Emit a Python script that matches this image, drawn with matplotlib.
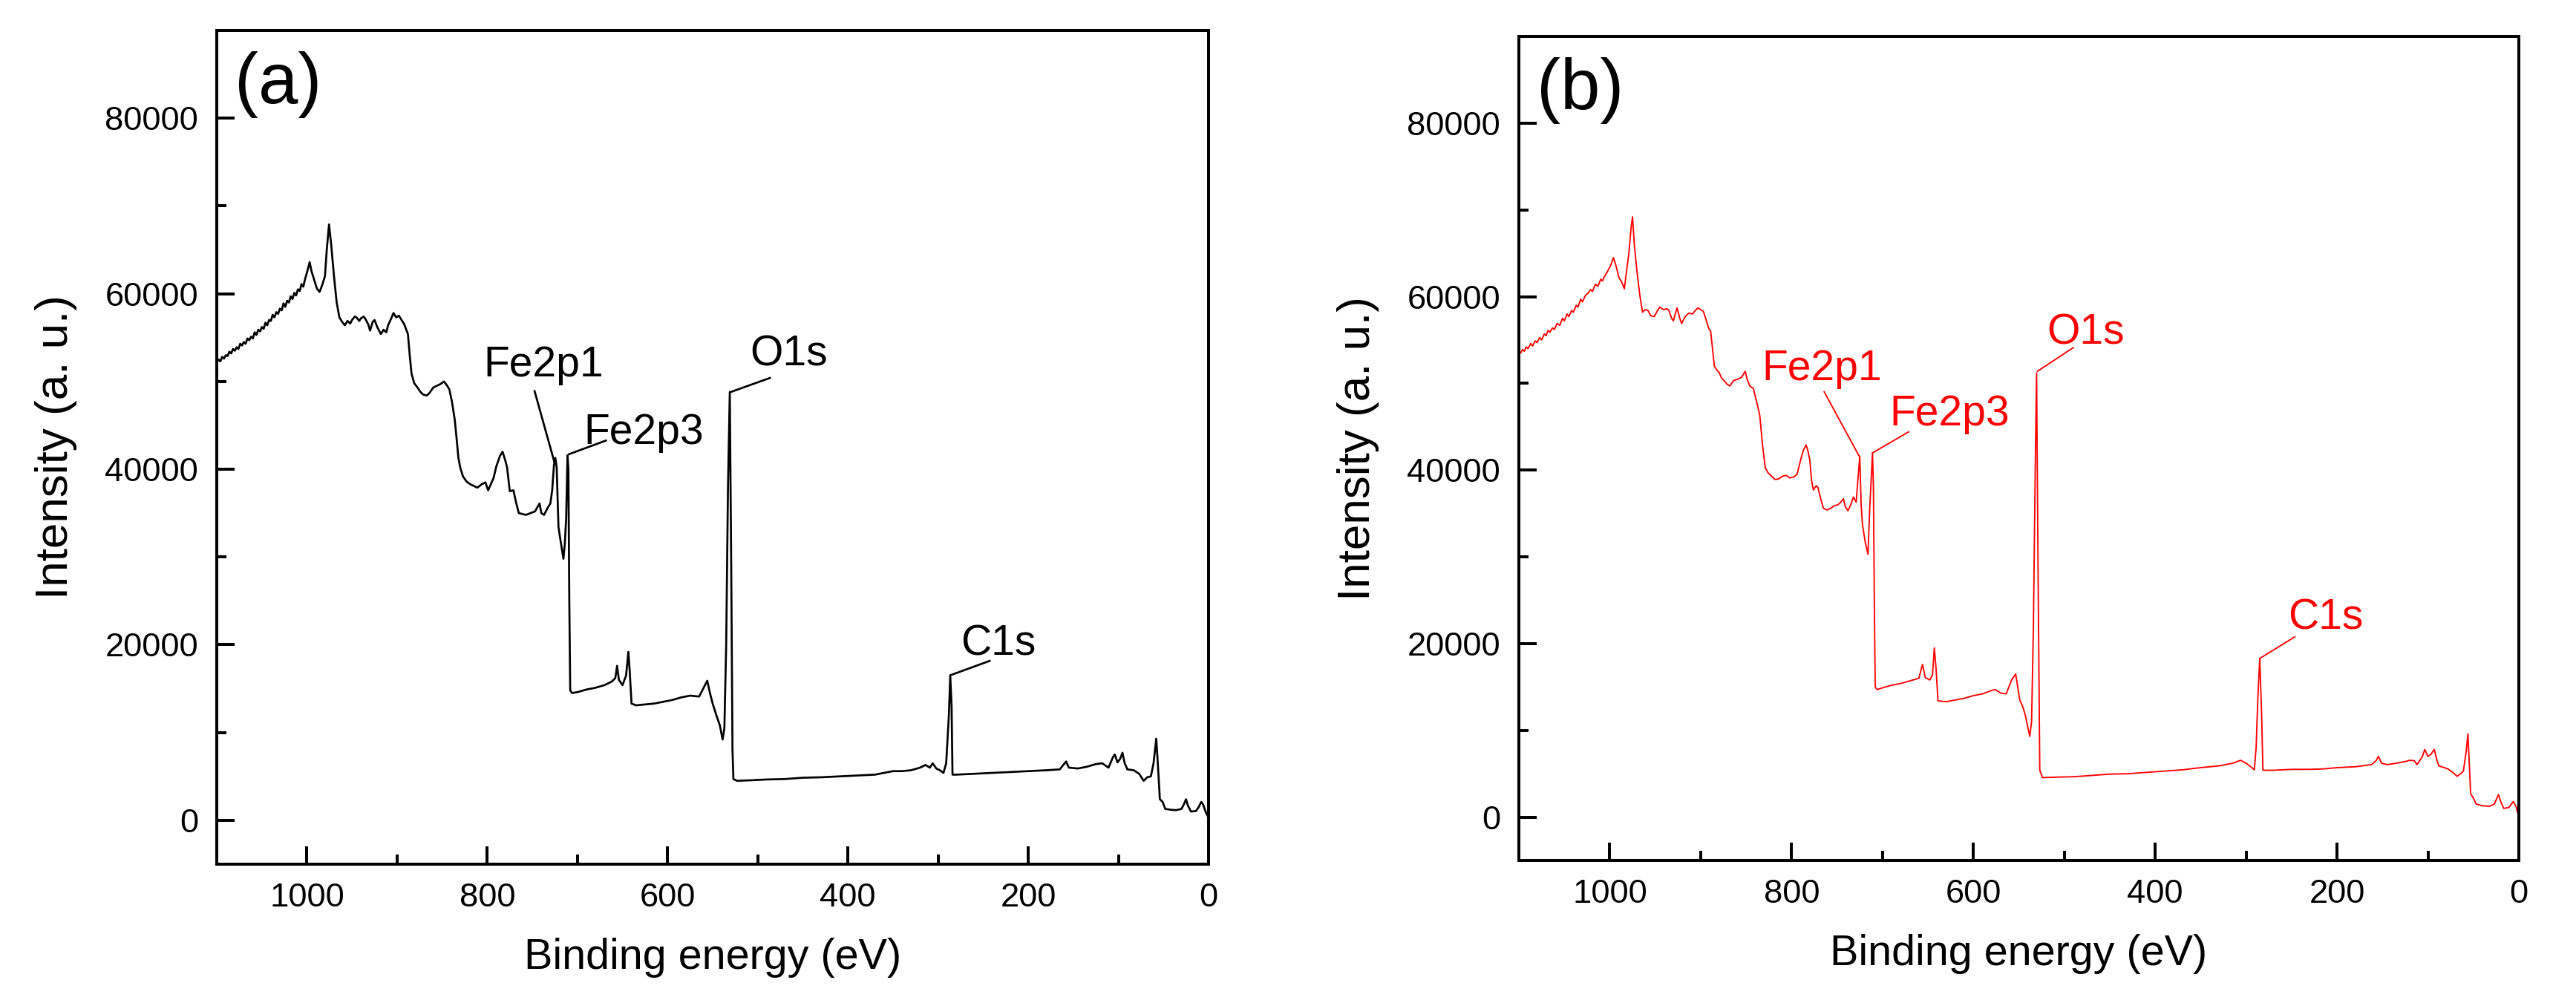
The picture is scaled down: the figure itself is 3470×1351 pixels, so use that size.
import numpy as np
import matplotlib
matplotlib.use('Agg')
import matplotlib.pyplot as plt
from matplotlib.ticker import MultipleLocator

plt.rcParams['font.family'] = ['Liberation Sans', 'DejaVu Sans']

# ---- spectrum (a), black ----
energy_a = [1100, 1098, 1096, 1094, 1092, 1090, 1088, 1086, 1084, 1082, 1080, 1078, 1076, 1074,
            1072, 1070, 1068, 1066, 1064, 1062, 1060, 1058, 1056, 1054, 1052, 1050, 1048, 1046,
            1044, 1042, 1040, 1038, 1036, 1034, 1032, 1030, 1028, 1026, 1024, 1022, 1020, 1018,
            1016, 1014, 1012, 1010, 1008, 1006, 1004, 1002, 1000, 998, 997, 995, 992, 989, 986,
            983, 980, 978, 975.5, 973, 970, 967, 964, 961, 958, 955, 952, 950, 947, 945, 942, 940,
            937, 935, 932, 930, 927, 925, 922, 918, 915, 912, 910, 906, 904, 901, 898, 895, 892,
            888, 886, 884, 881, 878, 874, 871, 867, 864, 860, 856, 852, 848, 845, 842, 839, 836,
            834, 832, 830, 827, 823, 819, 815, 811, 806, 802, 799, 796, 793, 790, 786, 783, 780,
            778, 775, 771, 768, 765, 761, 757, 752, 747, 742, 740, 737, 733, 730, 728, 726,
            724.5, 723, 721, 718, 715.5, 714, 712.5, 711, 710, 709, 708, 706, 700, 690, 680,
            670, 662, 658, 656, 654, 650, 646, 643.5, 642, 640, 635, 625, 615, 605, 595, 585,
            575, 565, 558, 556, 553, 550, 546, 542, 539, 537, 535, 533, 531, 529.5, 528, 527,
            523, 510, 490, 470, 450, 430, 410, 390, 370, 350, 340, 330, 320, 314, 309, 306,
            302, 298, 294, 291, 288, 286.5, 285, 284, 280, 260, 240, 220, 200, 180, 165, 158,
            155, 145, 135, 125, 118, 111, 106, 104, 101, 98, 95.5, 93, 90, 83, 77, 72, 68, 64,
            61, 58, 56, 54, 51, 48, 42, 36, 30, 27, 25, 23, 19.5, 14, 11, 8, 6, 3, 0]
counts_a = [52200, 52500, 52300, 52800, 52600, 53000, 52900, 53400, 53200, 53700, 53500, 53900, 53700, 54300,
            54100, 54500, 54300, 54900, 54700, 55100, 54900, 55600, 55300, 55900, 55700, 56200, 56000, 56700,
            56400, 57000, 56900, 57600, 57300, 57900, 57700, 58300, 58100, 58900, 58500, 59200, 59000, 59700,
            59400, 60100, 59800, 60500, 60300, 61100, 60800, 61700, 62400, 63200, 63600, 62600, 61600, 60600, 60200,
            61000, 62000, 65000, 67900, 65500, 62000, 59000, 57300, 56800, 56400, 56900, 56600, 57000, 57400, 57300, 56900, 57200,
            57400, 57100, 56500, 55800, 56800, 57000, 56200, 55400, 55900, 55600, 56400, 57300, 57800, 57300, 57500, 57000, 56500,
            55400, 53000, 50900, 49800, 49400, 48800, 48500, 48400, 48700, 49300, 49500, 49700, 50000, 49600, 49100, 47600, 45600,
            43500, 41300, 40200, 39200, 38600, 38300, 38100, 37900, 38300, 38500, 37600, 38300, 39000, 40300, 41500, 42000, 41000,
            40200, 37500, 37600, 36200, 35000, 34900, 34800, 35000, 35200, 36100, 35000, 34800, 35600, 36100, 37600, 40500,
            41300, 40200, 33400, 31400, 29800, 31500, 34300, 41600, 40000, 25000, 14800, 14500, 14600, 14900, 15100,
            15400, 15800, 16200, 17600, 16000, 15400, 16500, 19200, 17000, 13300, 13100, 13200, 13300, 13500, 13700, 14000,
            14200, 14100, 15500, 15900, 14500, 13300, 12000, 10800, 9200, 10500, 20000, 38000, 48800, 30000, 8000, 4700,
            4500, 4550, 4650, 4700, 4850, 4900, 5000, 5100, 5200, 5600, 5600, 5700, 6000, 6300, 6000, 6500,
            5900, 5700, 5400, 6500, 12000, 16500, 13000, 5200, 5200, 5300, 5400, 5500, 5600, 5700, 5800, 6700,
            6000, 5900, 6100, 6400, 6500, 6000, 7200, 7500, 6600, 7000, 7700, 6500, 5800, 5700, 5300, 4500, 4900, 5000,
            6500, 9300, 6000, 2400, 2100, 1300, 1200, 1150, 1300, 1900, 2400, 1700, 1000, 1050, 1500, 2100, 1800, 900, 300]

# ---- spectrum (b), red ----
energy_b = [1100, 1098, 1096, 1094, 1092, 1090, 1087, 1085, 1082, 1080, 1077, 1075, 1072, 1070, 1068,
            1066, 1063, 1061, 1058, 1055, 1052, 1050, 1047, 1045, 1042, 1040, 1037, 1035, 1032, 1030,
            1027, 1024, 1021, 1019, 1016, 1013, 1010, 1008, 1006, 1003, 999, 996, 993, 990, 987, 984,
            981.5, 979, 976.5, 975, 973, 970, 967, 964, 961, 958, 955, 951, 948, 945, 941, 937, 935,
            932, 930, 928, 926, 923, 921, 917, 913, 909, 906, 903, 900, 897, 894, 891, 889, 887,
            885, 882, 880, 877, 874, 871, 868, 864, 859, 855, 851, 849, 846, 842, 840, 838,
            835, 832, 829, 826, 822, 818, 814, 810, 806, 802, 798, 794, 790, 787, 784, 782,
            780, 778, 776, 773, 771, 768, 765, 761, 757, 753, 749, 746, 743, 741, 738, 735,
            732, 729, 727, 725, 723.5, 722, 719, 716, 714, 711, 710, 709, 708, 706, 700, 690,
            680, 670, 660, 656, 653, 648, 645, 643, 641, 639, 630, 620, 610, 600, 590, 580,
            576, 570, 564, 558, 553.5, 551, 549, 546, 543, 540, 538, 536, 534, 532, 530.5, 529,
            527, 524, 510, 490, 470, 450, 430, 410, 390, 370, 350, 330, 315, 306, 300, 296,
            291, 289, 287, 285, 283, 281.5, 270, 250, 230, 215, 200, 180, 162, 157, 154.5, 151,
            145, 135, 125, 120, 115, 112, 106, 103.5, 100, 97, 93, 90, 88, 82, 78, 72, 68, 64,
            61, 58, 56, 54, 53, 50, 47, 40, 32, 27, 22.4, 20, 16.6, 11, 6, 3, 0.5]
counts_b = [53700, 53500, 53900, 53700, 54200, 54000, 54600, 54300, 54900, 54700, 55300, 55000, 55700, 55500, 56100,
            55900, 56400, 56200, 56900, 56700, 57500, 57200, 58000, 57700, 58400, 58200, 59000, 58800, 59700, 59400,
            60100, 60400, 60800, 60600, 61400, 61200, 62000, 61800, 62300, 62800, 63600, 64500, 63500, 62200, 61700, 60900,
            63000, 65000, 68000, 69200, 66000, 62800, 60200, 58200, 58500, 58400, 57800, 57700, 58300, 58800, 58500, 58600, 58400,
            57500, 57200, 58000, 58700, 57500, 56900, 57700, 58100, 58000, 58400, 58700, 58500, 58300, 57300, 56300, 56000, 54000,
            52000, 51500, 51300, 50600, 50300, 49900, 49700, 50300, 50500, 50700, 51400, 50500, 49700, 49400, 48500, 47700,
            46300, 42900, 40300, 39700, 39300, 38900, 39000, 39300, 39400, 39100, 39200, 39500, 41200, 42300, 42900, 42200,
            41200, 38800, 37700, 38200, 38000, 36700, 35600, 35400, 35600, 35900, 36000, 36300, 36700, 35800, 35300, 36000,
            36900, 36300, 39000, 41600, 36000, 33700, 31700, 30300, 35700, 42000, 38000, 25000, 15000, 14700, 14900, 15200,
            15400, 15700, 16000, 17600, 16100, 15800, 16400, 19500, 17000, 13400, 13300, 13500, 13700, 14000, 14200, 14600,
            14700, 14300, 14200, 15800, 16500, 14800, 13500, 12800, 11800, 10300, 9300, 11000, 22000, 40000, 51200, 30000,
            5400, 4550, 4600, 4650, 4800, 4950, 5000, 5150, 5300, 5450, 5700, 5900, 6200, 6550, 6200, 5900,
            5450, 8000, 14000, 18300, 12000, 5400, 5400, 5500, 5500, 5550, 5700, 5800, 6050, 6500, 7000, 6200,
            6050, 6200, 6400, 6550, 6500, 6050, 7000, 7800, 7000, 7200, 7800, 6500, 5900, 5700, 5550, 5100, 4700, 5000,
            5300, 7500, 9600, 5000, 2700, 2200, 1500, 1300, 1250, 1500, 2600, 1800, 1000, 1100, 1800, 1200, 200]

# ---- peak labels: name, peak point, leader end, text anchor (left, baseline) ----
peak_names = ['Fe2p1', 'Fe2p3', 'O1s', 'C1s']
leader_a = [((747.5, 48900), (725.7, 40870)), ((709.2, 41720), (668.4, 43270)),
            ((530.0, 48800), (486.5, 50400)), ((285.8, 16550), (242.8, 18160))]
text_a = [(804, 50550), (693, 42900), (509, 51800), (275, 18850)]
leader_b = [((764.2, 49030), (725.4, 41560)), ((710.9, 41990), (671.2, 44410)),
            ((529.6, 51390), (490.1, 54120)), ((284.6, 18310), (246.4, 20780))]
text_b = [(832.6, 50400), (692.5, 45130), (518.8, 54490), (254, 21620)]

fig = plt.figure(figsize=(3470 / 300, 1351 / 300), dpi=300)
ax_a = fig.add_axes([0.08415, 0.13842, 0.38501, 0.83124])
ax_b = fig.add_axes([0.58963, 0.14212, 0.38818, 0.82161])

panels = [
    (ax_a, energy_a, counts_a, 'black', 0.65, leader_a, text_a, '(a)'),
    (ax_b, energy_b, counts_b, 'red', 0.45, leader_b, text_b, '(b)'),
]

for ax, e, c, col, lw, leaders, texts, tag in panels:
    ax.plot(e, c, color=col, lw=lw)
    for name, (p0, p1), (tx, ty) in zip(peak_names, leaders, texts):
        ax.plot([p0[0], p1[0]], [p0[1], p1[1]], color=col, lw=lw)
        ax.text(tx, ty, name, color=col, fontsize=13.7, ha='left', va='baseline')
    ax.text(0.018, 0.975, tag, transform=ax.transAxes, fontsize=23, ha='left', va='top')

    ax.set_xlim(1100, 0)
    ax.set_ylim(-5000, 90000)
    ax.xaxis.set_major_locator(MultipleLocator(200))
    ax.xaxis.set_minor_locator(MultipleLocator(100))
    ax.yaxis.set_major_locator(MultipleLocator(20000))
    ax.yaxis.set_minor_locator(MultipleLocator(10000))
    ax.tick_params(which='both', direction='in', top=False, right=False, width=0.96,
                   labelsize=10.9, pad=6.0)
    ax.tick_params(which='major', length=5.8)
    ax.tick_params(which='minor', length=3.1)
    for s in ax.spines.values():
        s.set_linewidth(0.96)
    ax.set_xlabel('Binding energy (eV)', fontsize=13.8, labelpad=8)
    ax.set_ylabel('Intensity (a. u.)', fontsize=14.9, labelpad=9)

fig.savefig('out.png', dpi=300)
